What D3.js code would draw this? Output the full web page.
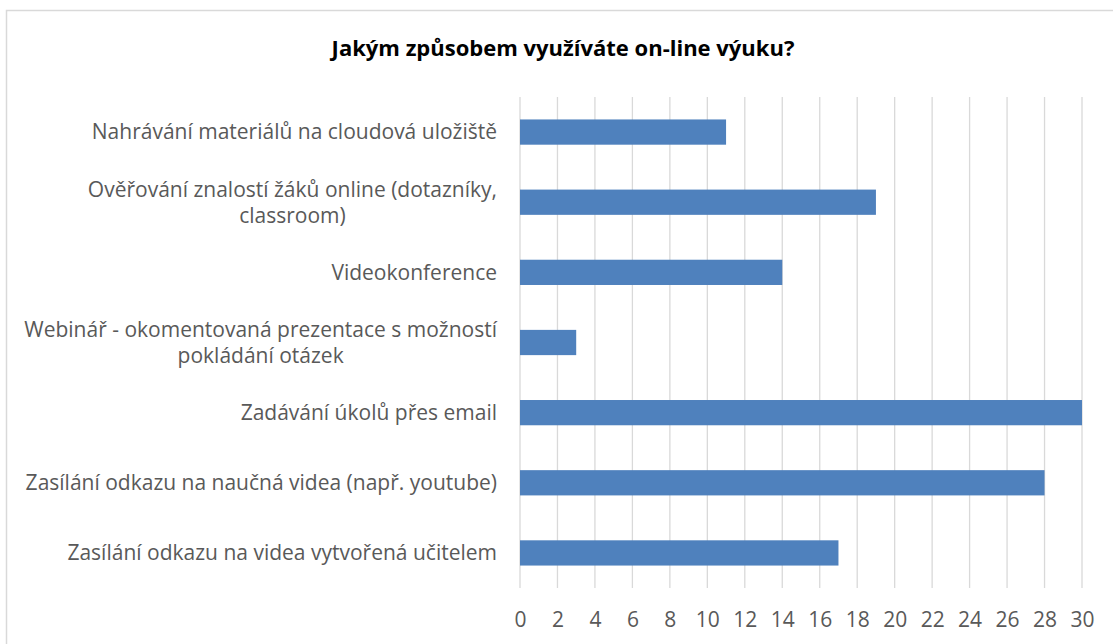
<!DOCTYPE html>
<html>
<head>
<meta charset="utf-8">
<script src="https://cdn.jsdelivr.net/npm/d3@7"></script>
<style>
  body { margin: 0; background: #fff; }
  svg { display: block; font-family: "Open Sans", sans-serif; }
</style>
</head>
<body>
<div id="chart"></div>
<script>
// Data
const categories = [
  "Nahrávání materiálů na cloudová uložiště",
  "Ověřování znalostí žáků online (dotazníky, classroom)",
  "Videokonference",
  "Webinář - okomentovaná prezentace s možností pokládání otázek",
  "Zadávání úkolů přes email",
  "Zasílání odkazu na naučná videa (např. youtube)",
  "Zasílání odkazu na videa vytvořená učitelem"
];
// how the long labels wrap in the original
const labelLines = [
  ["Nahrávání materiálů na cloudová uložiště"],
  ["Ověřování znalostí žáků online (dotazníky,", "classroom)"],
  ["Videokonference"],
  ["Webinář - okomentovaná prezentace s možností", "pokládání otázek"],
  ["Zadávání úkolů přes email"],
  ["Zasílání odkazu na naučná videa (např. youtube)"],
  ["Zasílání odkazu na videa vytvořená učitelem"]
];
const values = [11, 19, 14, 3, 30, 28, 17];
const xTicks = d3.range(0, 31, 2);
const title = "Jakým způsobem využíváte on-line výuku?";

const W = 1113, H = 644;
const margin = { top: 97, right: 31, bottom: 56, left: 520 };
const width = W - margin.left - margin.right;
const height = H - margin.top - margin.bottom;

const svg = d3.select("#chart").append("svg")
  .attr("width", W)
  .attr("height", H);

// chart border
svg.append("rect")
  .attr("x", 6.5).attr("y", 10.5)
  .attr("width", 1120).attr("height", 700)
  .attr("fill", "none")
  .attr("stroke", "#d9d9d9")
  .attr("stroke-width", 1.5);

svg.append("text")
  .attr("x", 563)
  .attr("y", 56)
  .attr("text-anchor", "middle")
  .attr("font-size", 22)
  .attr("font-weight", "bold")
  .attr("fill", "#000")
  .text(title);

const chart = svg.append("g")
  .attr("transform", `translate(${margin.left},${margin.top})`);

const x = d3.scaleLinear().domain([0, 30]).range([0, width]);
const y = d3.scaleBand().domain(categories).range([0, height]).paddingInner(0.64).paddingOuter(0.32);

// gridlines
chart.append("g")
  .selectAll("line")
  .data(xTicks)
  .enter()
  .append("line")
  .attr("x1", (d) => x(d))
  .attr("x2", (d) => x(d))
  .attr("y1", 0)
  .attr("y2", height)
  .attr("stroke", "#d9d9d9")
  .attr("stroke-width", 1.3);

// bars
chart.selectAll(".bar")
  .data(categories)
  .enter()
  .append("rect")
  .attr("class", "bar")
  .attr("x", x(0))
  .attr("y", (d) => y(d))
  .attr("width", (d, i) => x(values[i]) - x(0))
  .attr("height", y.bandwidth())
  .attr("fill", "#4f81bd");

// x axis
const xAxis = d3.axisBottom(x).tickValues(xTicks).tickSize(0).tickPadding(24);
const gx = chart.append("g")
  .attr("transform", `translate(0,${height})`)
  .call(xAxis);
gx.select(".domain").remove();
gx.selectAll("text")
  .attr("font-size", 21)
  .attr("font-family", "'Open Sans', sans-serif")
  .attr("fill", "#595959");

// y labels
const lineH = 26;
const labels = chart.append("g").selectAll("text")
  .data(categories)
  .enter()
  .append("text")
  .attr("text-anchor", "middle")
  .attr("font-size", 21)
  .attr("fill", "#595959");

labels.each(function (d, i) {
  const t = d3.select(this);
  const lines = labelLines[i];
  const cy = y(d) + y.bandwidth() / 2;
  lines.forEach((ln, j) => {
    t.append("tspan")
      .attr("x", 0)
      .attr("y", cy + (j - (lines.length - 1) / 2) * lineH)
      .attr("dy", "0.35em")
      .text(ln);
  });
});
// right align the block, centre each line within it
labels.each(function () {
  const t = d3.select(this);
  const w = d3.max(t.selectAll("tspan").nodes(), (n) => n.getComputedTextLength());
  t.selectAll("tspan").attr("x", -23 - w / 2);
});
</script>
</body>
</html>
